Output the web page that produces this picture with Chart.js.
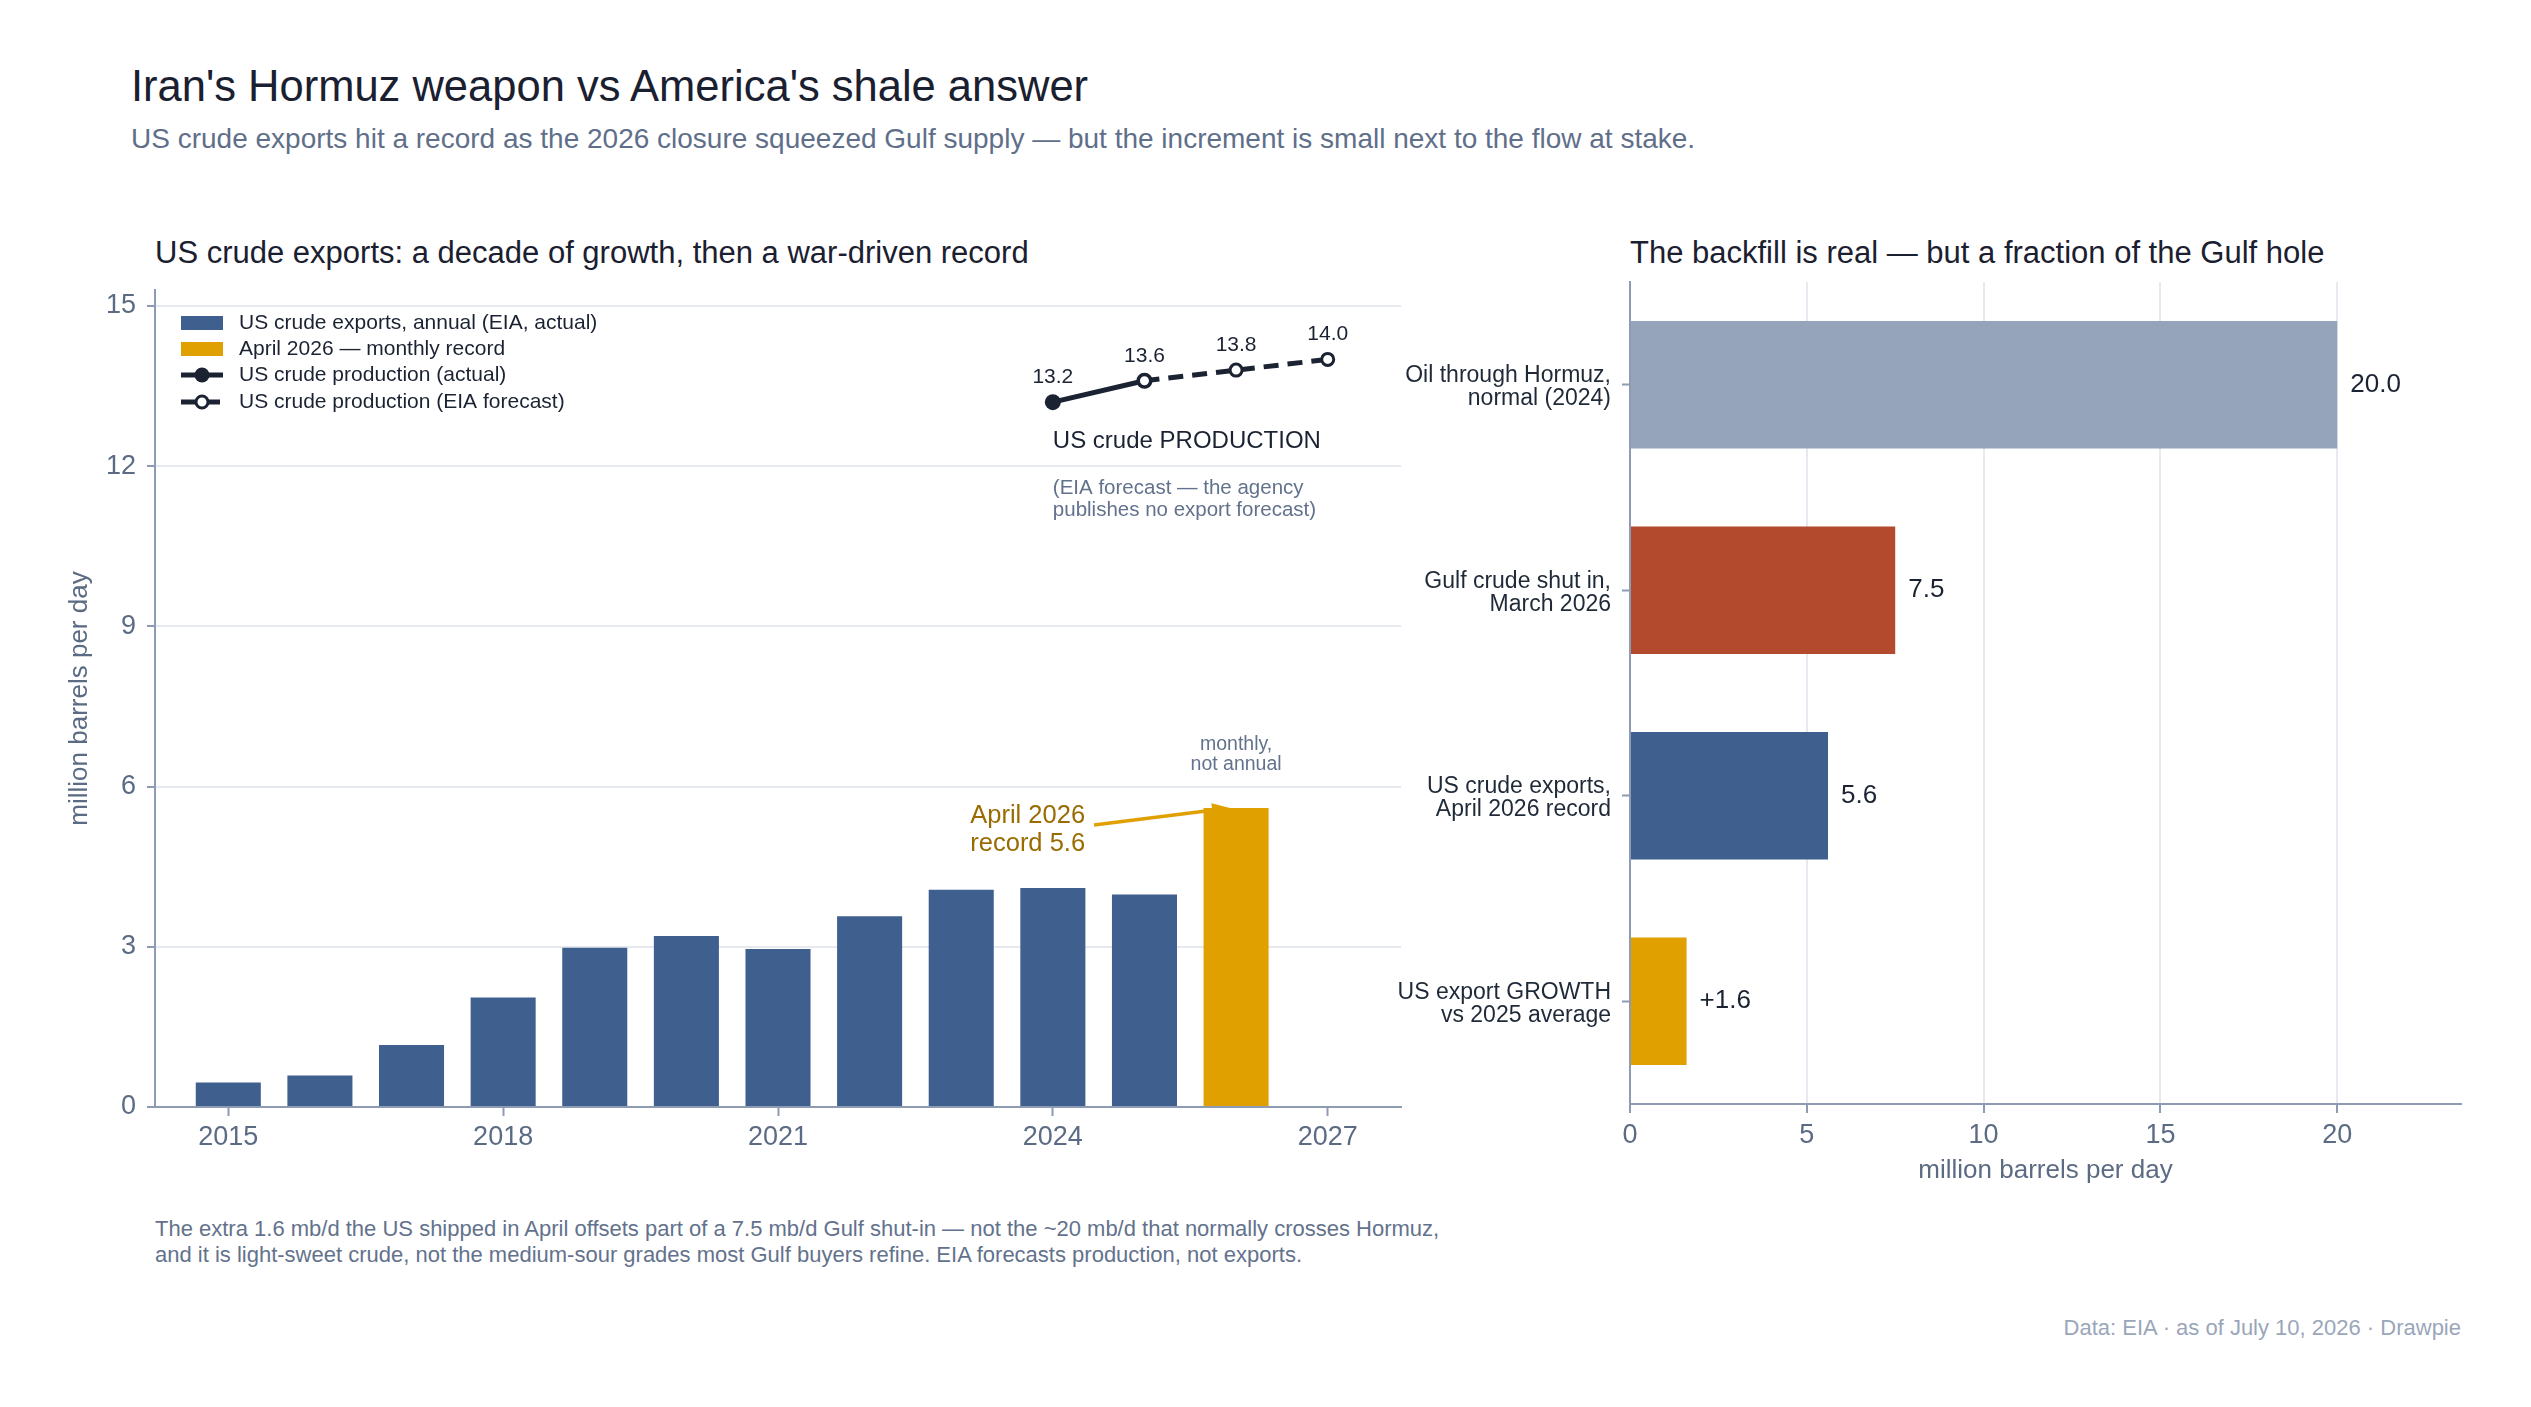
<!DOCTYPE html>
<html>
<head>
<meta charset="utf-8">
<script src="https://cdn.jsdelivr.net/npm/chart.js@4"></script>
<style>
  body { margin: 0; width: 2531px; height: 1407px; background: #fff; position: relative; overflow: hidden;
         font-family: "Liberation Sans", Arial, sans-serif; }
  .t { position: absolute; white-space: nowrap; line-height: 1.2; }
  #title { left: 131px; top: 60px; font-size: 43.5px; color: #1a2030; }
  #subtitle { left: 131px; top: 122px; font-size: 28px; color: #5f6f8a; }
  #leftTitle { left: 155px; top: 234px; font-size: 31px; color: #1a2030; }
  #rightTitle { left: 1630px; top: 234px; font-size: 31px; color: #1a2030; }
  #note { left: 155px; top: 1216px; font-size: 22px; line-height: 26px; color: #63728c; }
  #source { right: 70px; top: 1315px; font-size: 22px; color: #9aa6ba; }
  #leftBox { position: absolute; left: 0; top: 263px; width: 1420px; height: 940px; }
  #rightBox { position: absolute; left: 1390px; top: 260px; width: 1141px; height: 940px; }
</style>
</head>
<body>
<div class="t" id="title">Iran's Hormuz weapon vs America's shale answer</div>
<div class="t" id="subtitle">US crude exports hit a record as the 2026 closure squeezed Gulf supply — but the increment is small next to the flow at stake.</div>
<div class="t" id="leftTitle">US crude exports: a decade of growth, then a war-driven record</div>
<div class="t" id="rightTitle">The backfill is real — but a fraction of the Gulf hole</div>
<div class="t" id="note">The extra 1.6 mb/d the US shipped in April offsets part of a 7.5 mb/d Gulf shut-in — not the ~20 mb/d that normally crosses Hormuz,<br>and it is light-sweet crude, not the medium-sour grades most Gulf buyers refine. EIA forecasts production, not exports.</div>
<div class="t" id="source">Data: EIA · as of July 10, 2026 · Drawpie</div>
<div id="leftBox"><canvas id="leftChart" width="1420" height="940"></canvas></div>
<div id="rightBox"><canvas id="rightChart" width="1141" height="940"></canvas></div>

<script>
const FONT = '"Liberation Sans", Arial, sans-serif';
const BLUE = "#3f5f8f";
const GOLD = "#e0a100";
const RED = "#b34a2e";
const GREY = "#95a4ba";
const DARK = "#1b2333";
const AXIS = "#8d9bb3";
const GRID = "#e6e9ef";
const TICK = "#5c6b84";
const SLATE = "#63728c";

// left panel: annual exports + April 2026 monthly record
const exportYears = [2015, 2016, 2017, 2018, 2019, 2020, 2021, 2022, 2023, 2024, 2025];
const exportValues = [0.46, 0.59, 1.16, 2.05, 2.98, 3.2, 2.96, 3.57, 4.07, 4.1, 3.98];
const recordYears = [2026];
const recordValues = [5.6];

// production (actual and EIA forecast)
const prodActualYears = [2024, 2025];
const prodActualValues = [13.2, 13.6];
const prodForecastYears = [2025, 2026, 2027];
const prodForecastValues = [13.6, 13.8, 14.0];

const yearTicks = [2015, 2018, 2021, 2024, 2027];
const exportTicks = [0, 3, 6, 9, 12, 15];

// right panel
const gulfLabels = [
  ["Oil through Hormuz,", "normal (2024)"],
  ["Gulf crude shut in,", "March 2026"],
  ["US crude exports,", "April 2026 record"],
  ["US export GROWTH", "vs 2025 average"]
];
const gulfValues = [20.0, 7.5, 5.6, 1.6];
const gulfValueText = ["20.0", "7.5", "5.6", "+1.6"];
const gulfColors = [GREY, RED, BLUE, GOLD];
const gulfTicks = [0, 5, 10, 15, 20];

const toPoints = (xs, ys) => xs.map((x, i) => ({ x: x, y: ys[i] }));

const leftDecor = {
  id: "leftDecor",
  afterDatasetsDraw(chart) {
    const { ctx, chartArea, scales: { x, y } } = chart;
    ctx.save();

    // value labels above production points
    ctx.font = "21px " + FONT;
    ctx.fillStyle = DARK;
    ctx.textAlign = "center";
    ctx.textBaseline = "middle";
    const labelled = toPoints([prodActualYears[0]].concat(prodForecastYears),
                              [prodActualValues[0]].concat(prodForecastValues));
    labelled.forEach(p => {
      ctx.fillText(p.y.toFixed(1), x.getPixelForValue(p.x), y.getPixelForValue(p.y) - 25);
    });

    // production caption
    const capX = x.getPixelForValue(prodActualYears[0]);
    const capY = y.getPixelForValue(prodActualValues[0]);
    ctx.textAlign = "left";
    ctx.font = "24px " + FONT;
    ctx.fillText("US crude PRODUCTION", capX, capY + 39);
    ctx.font = "20.5px " + FONT;
    ctx.fillStyle = SLATE;
    ctx.fillText("(EIA forecast — the agency", capX, capY + 86);
    ctx.fillText("publishes no export forecast)", capX, capY + 108);

    // April 2026 annotation
    const bx = x.getPixelForValue(recordYears[0]);
    const by = y.getPixelForValue(recordValues[0]);
    ctx.fillStyle = "#9a6b00";
    ctx.font = "25.5px " + FONT;
    ctx.textAlign = "right";
    ctx.fillText("April 2026", bx - 151, by + 8);
    ctx.fillText("record " + recordValues[0].toFixed(1), bx - 151, by + 36);
    const x0 = bx - 142, y0 = by + 17, x1 = bx - 6, y1 = by;
    ctx.strokeStyle = GOLD;
    ctx.lineWidth = 3.5;
    ctx.beginPath();
    ctx.moveTo(x0, y0);
    ctx.lineTo(x1 - 12, y1 + 1.5);
    ctx.stroke();
    const ang = Math.atan2(y1 - y0, x1 - x0);
    ctx.fillStyle = GOLD;
    ctx.beginPath();
    ctx.moveTo(x1, y1);
    ctx.lineTo(x1 - 18 * Math.cos(ang) + 7 * Math.sin(ang), y1 - 18 * Math.sin(ang) - 7 * Math.cos(ang));
    ctx.lineTo(x1 - 18 * Math.cos(ang) - 7 * Math.sin(ang), y1 - 18 * Math.sin(ang) + 7 * Math.cos(ang));
    ctx.closePath();
    ctx.fill();

    ctx.fillStyle = SLATE;
    ctx.font = "19.5px " + FONT;
    ctx.textAlign = "center";
    ctx.fillText("monthly,", bx, by - 63);
    ctx.fillText("not annual", bx, by - 43);

    // legend
    const lx = chartArea.left + 26, tx = chartArea.left + 84;
    const rows = [33, 59, 85, 112].map(v => chartArea.top + v);
    ctx.font = "21px " + FONT;
    ctx.textAlign = "left";
    ctx.fillStyle = BLUE;
    ctx.fillRect(lx, rows[0] - 7, 42, 14);
    ctx.fillStyle = GOLD;
    ctx.fillRect(lx, rows[1] - 7, 42, 14);
    ctx.strokeStyle = DARK;
    ctx.lineWidth = 5;
    ctx.beginPath();
    ctx.moveTo(lx, rows[2]);
    ctx.lineTo(lx + 42, rows[2]);
    ctx.stroke();
    ctx.fillStyle = DARK;
    ctx.beginPath();
    ctx.arc(lx + 21, rows[2], 7.5, 0, Math.PI * 2);
    ctx.fill();
    ctx.setLineDash([15, 9]);
    ctx.beginPath();
    ctx.moveTo(lx, rows[3]);
    ctx.lineTo(lx + 42, rows[3]);
    ctx.stroke();
    ctx.setLineDash([]);
    ctx.fillStyle = "#fff";
    ctx.lineWidth = 3;
    ctx.beginPath();
    ctx.arc(lx + 21, rows[3], 6, 0, Math.PI * 2);
    ctx.fill();
    ctx.stroke();
    ctx.fillStyle = DARK;
    ctx.fillText("US crude exports, annual (EIA, actual)", tx, rows[0]);
    ctx.fillText("April 2026 — monthly record", tx, rows[1]);
    ctx.fillText("US crude production (actual)", tx, rows[2]);
    ctx.fillText("US crude production (EIA forecast)", tx, rows[3]);
    ctx.restore();
  }
};

new Chart(document.getElementById("leftChart"), {
  type: "bar",
  data: {
    datasets: [
      {
        type: "line",
        label: "US crude production (EIA forecast)",
        data: toPoints(prodForecastYears, prodForecastValues),
        borderColor: DARK,
        borderWidth: 5,
        borderDash: [15, 9],
        pointRadius: 6,
        pointBorderWidth: 3,
        pointBackgroundColor: "#fff",
        pointBorderColor: DARK,
        tension: 0
      },
      {
        type: "line",
        label: "US crude production (actual)",
        data: toPoints(prodActualYears, prodActualValues),
        borderColor: DARK,
        borderWidth: 5,
        pointRadius: 8,
        pointBorderWidth: 0,
        pointBackgroundColor: DARK,
        tension: 0
      },
      {
        label: "April 2026 — monthly record",
        data: toPoints(recordYears, recordValues),
        backgroundColor: GOLD,
        grouped: false,
        barPercentage: 0.71,
        categoryPercentage: 1
      },
      {
        label: "US crude exports, annual (EIA, actual)",
        data: toPoints(exportYears, exportValues),
        backgroundColor: BLUE,
        grouped: false,
        barPercentage: 0.71,
        categoryPercentage: 1
      }
    ]
  },
  options: {
    responsive: false,
    animation: false,
    layout: { padding: { top: 27, right: 19, left: 0, bottom: 0 } },
    plugins: { legend: { display: false }, tooltip: { enabled: false } },
    scales: {
      x: {
        type: "linear",
        min: 2014.2,
        max: 2027.8,
        offset: false,
        afterBuildTicks: s => { s.ticks = yearTicks.map(v => ({ value: v })); },
        afterFit: s => { s.height = 96; s.paddingLeft = 0; s.paddingRight = 0; },
        ticks: { color: TICK, font: { size: 27, family: FONT }, padding: 5, callback: v => String(v) },
        grid: { drawOnChartArea: false, tickLength: 9, tickColor: AXIS, tickWidth: 2, offset: false },
        border: { color: AXIS, width: 2 }
      },
      y: {
        min: 0,
        max: 15.3,
        afterBuildTicks: s => { s.ticks = exportTicks.map(v => ({ value: v })); },
        afterFit: s => { s.width = 155; s.paddingTop = 0; s.paddingBottom = 0; },
        ticks: { color: TICK, font: { size: 27, family: FONT }, padding: 11 },
        grid: { color: GRID, lineWidth: 2, tickLength: 8, tickColor: AXIS, tickWidth: 2 },
        border: { color: AXIS, width: 2 },
        title: { display: true, text: "million barrels per day", color: TICK,
                 font: { size: 26, family: FONT }, padding: { top: 64, bottom: 0 } }
      }
    }
  },
  plugins: [leftDecor]
});

const rightDecor = {
  id: "rightDecor",
  afterDatasetsDraw(chart) {
    const { ctx } = chart;
    const meta = chart.getDatasetMeta(0);
    ctx.save();
    ctx.font = "26px " + FONT;
    ctx.fillStyle = DARK;
    ctx.textAlign = "left";
    ctx.textBaseline = "middle";
    meta.data.forEach((bar, i) => {
      ctx.fillText(gulfValueText[i], bar.x + 13, bar.y);
    });
    ctx.restore();
  }
};

new Chart(document.getElementById("rightChart"), {
  type: "bar",
  data: {
    labels: gulfLabels,
    datasets: [{
      data: gulfValues,
      backgroundColor: gulfColors,
      barPercentage: 0.62,
      categoryPercentage: 1
    }]
  },
  options: {
    indexAxis: "y",
    responsive: false,
    animation: false,
    layout: { padding: { top: 22, right: 70, left: 0, bottom: 0 } },
    plugins: { legend: { display: false }, tooltip: { enabled: false } },
    scales: {
      x: {
        min: 0,
        max: 23.5,
        afterBuildTicks: s => { s.ticks = gulfTicks.map(v => ({ value: v })); },
        afterFit: s => { s.height = 96; s.paddingLeft = 0; s.paddingRight = 0; },
        ticks: { color: TICK, font: { size: 27, family: FONT }, padding: 6 },
        grid: { color: GRID, lineWidth: 2, tickLength: 9, tickColor: AXIS, tickWidth: 2 },
        border: { color: AXIS, width: 2 },
        title: { display: true, text: "million barrels per day", color: TICK,
                 font: { size: 26, family: FONT }, padding: { top: 0, bottom: 14 } }
      },
      y: {
        afterFit: s => { s.width = 240; s.paddingTop = 0; s.paddingBottom = 0; },
        ticks: { color: "#1f2937", font: { size: 23, family: FONT, lineHeight: 1.0 }, padding: 11, labelOffset: 2.5 },
        grid: { drawOnChartArea: false, offset: false, tickLength: 8, tickColor: AXIS, tickWidth: 2 },
        border: { color: AXIS, width: 2 }
      }
    }
  },
  plugins: [rightDecor]
});
</script>
</body>
</html>
